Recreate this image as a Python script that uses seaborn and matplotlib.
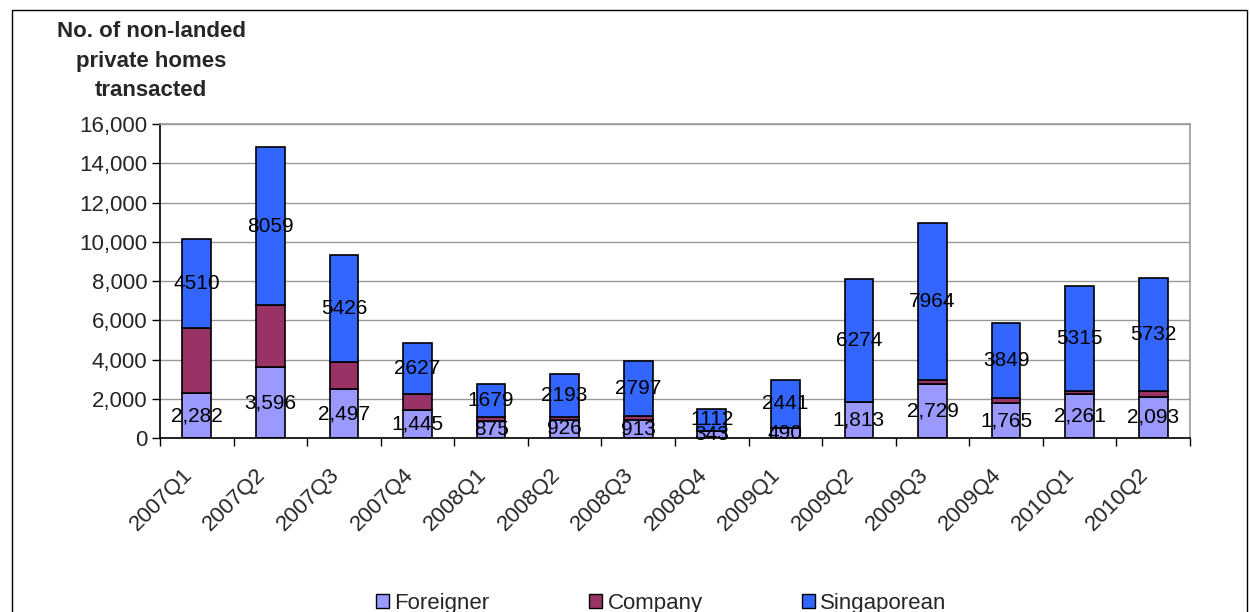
import matplotlib
matplotlib.use("Agg")
import matplotlib.pyplot as plt
import matplotlib.transforms as mtransforms
import seaborn as sns
import pandas as pd
from matplotlib.patches import Patch, Rectangle
from matplotlib.ticker import FuncFormatter, MultipleLocator

quarters = ["2007Q1", "2007Q2", "2007Q3", "2007Q4", "2008Q1", "2008Q2", "2008Q3",
            "2008Q4", "2009Q1", "2009Q2", "2009Q3", "2009Q4", "2010Q1", "2010Q2"]
foreigner = [2282, 3596, 2497, 1445, 875, 926, 913, 343, 490, 1813, 2729, 1765, 2261, 2093]
company = [3350, 3180, 1400, 780, 190, 120, 200, 20, 30, 40, 250, 250, 150, 320]
singaporean = [4510, 8059, 5426, 2627, 1679, 2193, 2797, 1112, 2441, 6274, 7964, 3849, 5315, 5732]

series_names = ["Foreigner", "Company", "Singaporean"]
colors = ["#9999FF", "#993366", "#3366FF"]

df = pd.DataFrame({"quarter": quarters, "Foreigner": foreigner,
                   "Company": company, "Singaporean": singaporean})

sns.set_theme(style="white")
plt.rcParams["font.family"] = ["Liberation Sans", "DejaVu Sans"]

fig = plt.figure(figsize=(12.5, 6.12), dpi=100)
ax = fig.add_axes([0.128, 0.2843, 0.824, 0.5127])

bottom = [0] * len(quarters)
containers = []
for name, col in zip(series_names, colors):
    sns.barplot(data=df, x="quarter", y=name, color=col, bottom=bottom,
                width=0.39, edgecolor="black", linewidth=1.2, saturation=1,
                ax=ax, errorbar=None)
    containers.append(ax.containers[-1])
    bottom = [b + v for b, v in zip(bottom, df[name])]

ax.bar_label(containers[0], labels=[f"{v:,}" for v in foreigner],
             label_type="center", fontsize=15, color="black")
ax.bar_label(containers[2], labels=[f"{v}" for v in singaporean],
             label_type="center", fontsize=15, color="black")

ax.set_ylim(0, 16000)
ax.set_xlim(-0.5, len(quarters) - 0.5)
ax.yaxis.set_major_locator(MultipleLocator(2000))
ax.yaxis.set_major_formatter(FuncFormatter(lambda v, p: f"{int(v):,}"))
ax.grid(axis="y", color="#999999", linewidth=1)
ax.set_axisbelow(True)
ax.set_xlabel("")
ax.set_ylabel("")

# x ticks at category boundaries, labels at centers
ax.set_xticks([i for i in range(len(quarters))])
ax.set_xticklabels(quarters, rotation=45, ha="right", rotation_mode="anchor",
                   fontsize=16)
ax.tick_params(axis="x", which="major", length=0, pad=19)
ax.set_xticks([i - 0.5 for i in range(len(quarters) + 1)], minor=True)
ax.tick_params(axis="x", which="minor", length=6, width=1, color="black",
               direction="out", bottom=True)
ax.tick_params(axis="y", length=6, width=1, color="black", direction="out",
               left=True, labelsize=16, pad=3)

shift = mtransforms.ScaledTranslation(-0.15, 0, fig.dpi_scale_trans)
for lbl in ax.get_xticklabels():
    lbl.set_transform(lbl.get_transform() + shift)

for s in ["left", "bottom"]:
    ax.spines[s].set_color("black")
    ax.spines[s].set_linewidth(1.2)
for s in ["top", "right"]:
    ax.spines[s].set_color("#999999")
    ax.spines[s].set_linewidth(1.2)

fig.text(0.121, 0.965, "No. of non-landed\nprivate homes\ntransacted",
         ha="center", va="top", fontsize=16, fontweight="bold",
         linespacing=1.52)

handles = [Patch(facecolor=c, edgecolor="black", linewidth=1) for c in colors]
fig.legend(handles, series_names, loc="lower center",
           bbox_to_anchor=(0.529, -0.036), ncol=3, frameon=False,
           fontsize=16, handlelength=0.6, handleheight=0.6,
           handletextpad=0.25, columnspacing=4.45)

fig.patches.append(Rectangle((0.0096, -0.01), 0.988, 0.9937,
                             transform=fig.transFigure, fill=False,
                             edgecolor="black", linewidth=1))

fig.savefig("out.png", dpi=100)
